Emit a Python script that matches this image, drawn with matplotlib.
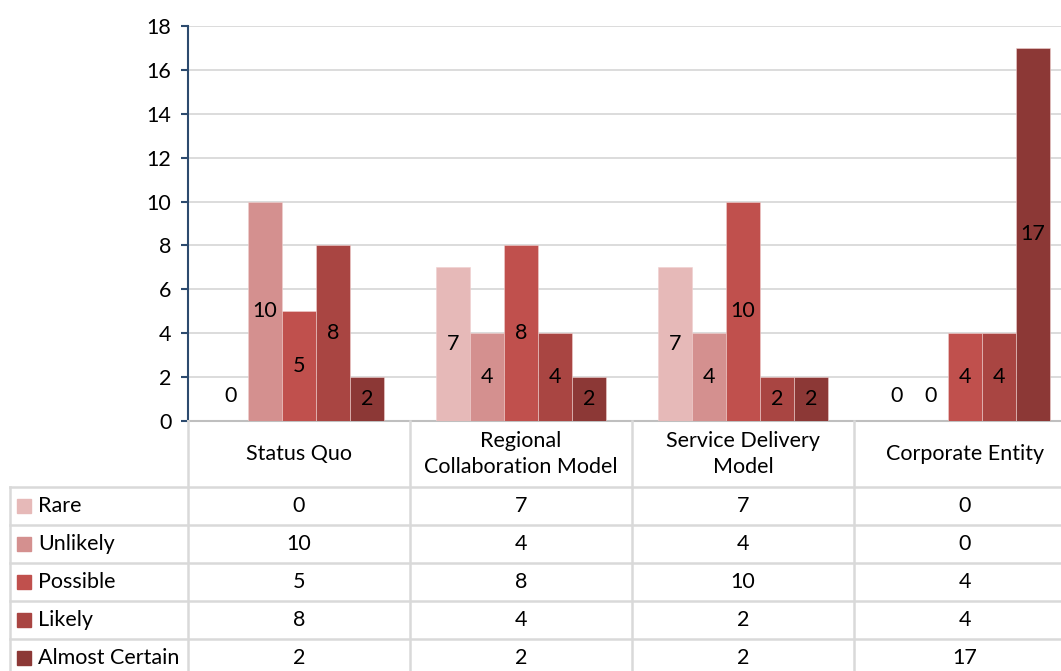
import matplotlib.pyplot as plt
import numpy as np

plt.rcParams['font.family'] = ['Lato', 'DejaVu Sans']

categories = ["Status Quo", "Regional\nCollaboration Model", "Service Delivery\nModel", "Corporate Entity"]
series = ["Rare", "Unlikely", "Possible", "Likely", "Almost Certain"]
rare = [0, 7, 7, 0]
unlikely = [10, 4, 4, 0]
possible = [5, 8, 10, 4]
likely = [8, 4, 2, 4]
almost_certain = [2, 2, 2, 17]
colors = ["#e6b9b8", "#d4908f", "#c0504d", "#a94542", "#8c3836"]
yticks = list(range(0, 19, 2))

values = [rare, unlikely, possible, likely, almost_certain]
FS = 15.5

W, H = 1061, 671
fig = plt.figure(figsize=(W / 100, H / 100), dpi=100)

# plot area in pixels: left 188, right 1076 (runs off the canvas), top 26, bottom 421
ax = fig.add_axes([188 / W, (H - 421) / H, 888 / W, 395 / H])
bw = 34 / 222
x = np.arange(len(categories))
for j, (name, vals, c) in enumerate(zip(series, values, colors)):
    xs = x + (j - 2) * bw
    ax.bar(xs, vals, width=bw, color=c, edgecolor="#f0d0cf", linewidth=0.4, zorder=3)
    for xi, v in zip(xs, vals):
        ax.text(xi, v / 2 if v > 0 else 1.15, str(v), ha="center", va="center",
                fontsize=FS, color="black", zorder=4)

ax.set_xlim(-0.5, 3.5)
ax.set_ylim(0, 18)
ax.set_yticks(yticks)
ax.set_yticklabels([str(t) for t in yticks], fontsize=FS)
ax.set_xticks([])
ax.yaxis.grid(True, color="#d9d9d9", linewidth=1.3, zorder=0)
ax.set_axisbelow(True)
for s in ["top", "right"]:
    ax.spines[s].set_visible(False)
ax.spines["left"].set_color("#2c4a6e")
ax.spines["left"].set_linewidth(1.5)
ax.spines["bottom"].set_color("#bfbfbf")
ax.spines["bottom"].set_linewidth(1.5)
ax.tick_params(axis="y", length=5, width=1.5, color="#2c4a6e", pad=7)

# data table under the plot, drawn in pixel coordinates
tab = fig.add_axes([0, 0, 1, 1])
tab.set_xlim(0, W)
tab.set_ylim(H, 0)
tab.axis("off")
line_c = "#d9d9d9"
col_x = [188 + 222 * i for i in range(5)]
row_y = [487 + 38 * i for i in range(6)]
for cx in col_x:
    tab.plot([cx, cx], [421, 700], color=line_c, lw=1.8)
tab.plot([10, 10], [487, 700], color=line_c, lw=1.8)
for ry in row_y[:-1]:
    tab.plot([10, 1076], [ry, ry], color=line_c, lw=1.8)

for i, cat in enumerate(categories):
    tab.text(col_x[i] + 111, 454, cat, ha="center", va="center", fontsize=FS,
             linespacing=1.4)

for r, (name, vals, c) in enumerate(zip(series, values, colors)):
    cy = row_y[r] + 19
    tab.add_patch(plt.Rectangle((17, cy - 7), 14, 14, color=c))
    tab.text(38, cy, name, ha="left", va="center", fontsize=FS)
    for i, v in enumerate(vals):
        tab.text(col_x[i] + 111, cy, str(v), ha="center", va="center", fontsize=FS)

fig.savefig("out.png", dpi=100)
